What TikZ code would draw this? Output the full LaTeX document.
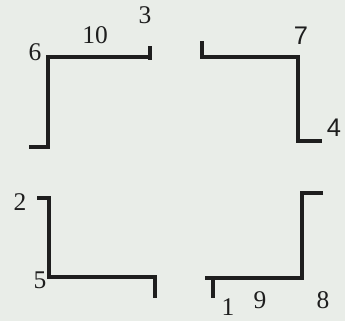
\documentclass[tikz,border=0pt]{standalone}
\usepackage{fontspec}
\setmainfont{Liberation Serif}
\newfontfamily\sansnum{Liberation Sans}
\usepackage{tikz}
\usetikzlibrary{positioning}
\definecolor{paper}{RGB}{233,237,232}
\definecolor{ink}{RGB}{30,30,30}
\tikzstyle{wall}=[draw=ink,line width=2pt]
\tikzstyle{every node}=[font=\fontsize{14.5}{16}\selectfont,text=ink,inner sep=0pt]
\newcommand{\snum}[1]{{\sansnum #1}}

\begin{document}
\begin{tikzpicture}[x=0.02cm,y=-0.02cm]
    \fill[paper] (0,0) rectangle (345,321);
    \useasboundingbox (0,0) rectangle (345,321);
    % top left piece
    \coordinate (c6) at (48,57);
    \coordinate (e3) at (150,57);
    \draw[wall] (29,147) -- (48,147) -- (c6) -- (e3);
    \draw[wall] (150,46) -- (150,60);
    % top right piece
    \coordinate (c7) at (298,57);
    \coordinate (c4) at (298,141);
    \draw[wall] (202,41) -- (202,57) -- (c7) -- (c4) -- (322,141);
    % bottom left piece
    \coordinate (c2) at (49,198);
    \coordinate (c5) at (49,277);
    \draw[wall] (37,198) -- (c2) -- (c5) -- (155,277);
    \draw[wall] (155,275) -- (155,298);
    % bottom right piece
    \coordinate (c8) at (302,278);
    \draw[wall] (323,193) -- (302,193) -- (c8) -- (205,278);
    \draw[wall] (213,278) -- (213,298);
    % labels
    \node (n6) at (35,52) {6};
    \node (n10) at (95,35) {10};
    \node (n3) at (145,15) {3};
    \node (n7) at (301,36) {\snum{7}};
    \node (n4) at (334,128) {\snum{4}};
    \node (n2) at (20,202) {2};
    \node (n5) at (40,280) {5};
    \node (n1) at (228,307) {1};
    \node (n9) at (260,300) {9};
    \node (n8) at (323,300) {8};
\end{tikzpicture}
\end{document}
